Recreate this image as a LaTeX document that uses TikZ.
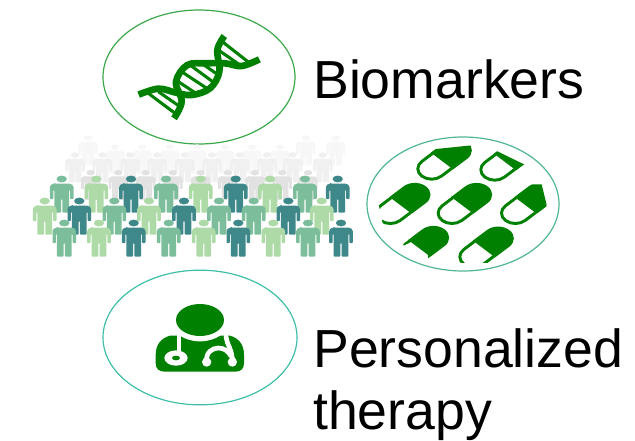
\documentclass[tikz,border=0pt]{standalone}
\usepackage{fontspec}
\setmainfont{Liberation Sans}
\usetikzlibrary{shapes.geometric}
\definecolor{gr}{HTML}{008000}
\definecolor{pa}{HTML}{7CBE9C}
\definecolor{pb}{HTML}{AEDAA8}
\definecolor{pc}{HTML}{3F888A}
\definecolor{qa}{HTML}{E2E2E2}
\definecolor{qb}{HTML}{F0F0F0}
\definecolor{qc}{HTML}{F7F7F7}
\definecolor{ra}{HTML}{3CA84A}
\definecolor{rb}{HTML}{4FB595}
\definecolor{rc}{HTML}{3DBFA8}
\tikzset{
  ring/.style={draw=#1,ellipse,line width=.9pt,inner sep=0pt},
  label text/.style={font=\fontsize{40.2pt}{47pt}\selectfont,inner sep=0pt,anchor=base west,text=black},
  strand/.style={draw=gr,line width=5pt},
  rung/.style={draw=gr,line width=2.3pt},
  tube/.style={draw=white,line width=3.5pt,line cap=round},
}
\newcommand{\person}[4]{%
  \begin{scope}[shift={(#1,#2)},scale=#4]
    \fill[#3] (0,0) ellipse [x radius=5.2,y radius=3.4];
    \fill[#3,rounded corners=.6pt] (-7,4.6) -- (7,4.6) .. controls (10,4.6) and (11.8,6.5) .. (11.8,9)
      -- (11.8,20) -- (8.4,20) -- (8.4,11) -- (7.4,11) -- (7.4,33.5) -- (0.6,33.5) -- (0.6,20) -- (-0.6,20)
      -- (-0.6,33.5) -- (-7.4,33.5) -- (-7.4,11) -- (-8.4,11) -- (-8.4,20) -- (-11.8,20) -- (-11.8,9)
      .. controls (-11.8,6.5) and (-10,4.6) .. (-7,4.6) -- cycle;
  \end{scope}}
\newcommand{\pill}[3]{%
  \begin{scope}
    \clip #3;
    \begin{scope}[shift={(#1,#2)},xscale=1.33,rotate=45,y=.25pt]
      \fill[gr] (0,35.5) -- (45,35.5) arc (90:-90:35.5) -- (0,-35.5) -- cycle;
      \draw[gr,line width=2.2pt] (1,31.2) -- (-33,31.2) arc (90:270:31.2) -- (1,-31.2);
    \end{scope}
  \end{scope}}
\begin{document}
\begin{tikzpicture}[x=.75pt,y=-.75pt]
\useasboundingbox (0,0) rectangle (635,440);
% rings
\node[ring=ra,minimum width=144pt,minimum height=100.5pt] (dnaRing) at (199,77) {};
\node[ring=rb,minimum width=144pt,minimum height=100.5pt] (pillRing) at (463,204) {};
\node[ring=rc,minimum width=145.5pt,minimum height=101pt] (docRing) at (200,337.5) {};
% labels
\node[label text] (bio) at (313,98) {Biomarkers};
\node[label text] (per) at (313,367) {Personalized};
\node[label text] (the) at (313,429) {therapy};
% DNA
\begin{scope}[shift={(100,0)},x=.25pt,y=-.25pt]
  \draw[rung] (145,280) -- (232,345);
  \draw[rung] (175,275) -- (243,322);
  \draw[rung] (235,245) -- (285,278);
  \draw[rung] (245,215) -- (325,268);
  \draw[rung] (270,195) -- (345,250);
  \draw[rung] (305,190) -- (355,225);
  \draw[rung] (358,118) -- (450,190);
  \draw[rung] (355,150) -- (420,195);
  \draw[strand] plot[smooth,tension=.6] coordinates {(116,284) (175,266) (228,278) (275,285) (330,265) (358,215) (352,150) (373,108)};
  \draw[strand] plot[smooth,tension=.6] coordinates {(222,355) (245,305) (228,245) (262,195) (320,190) (375,190) (425,198) (478,178)};
\end{scope}
% pills
\begin{scope}[shift={(360,130)},x=.25pt,y=-.25pt]
  \pill{246}{93}{(150,65) -- (325,47) -- (345,47) -- (345,160) -- (150,160) -- cycle}
  \pill{435}{96}{(340,160) -- (340,62) -- (408,62) -- (492,103) -- (520,160) -- cycle}
  \pill{122}{226}{(50,140) -- (230,140) -- (230,300) -- (70,290) -- (66,270) -- (57,228) -- cycle}
  \pill{307}{226}{(200,140) -- (420,140) -- (420,300) -- (200,300) -- cycle}
  \pill{497}{226}{(400,163) -- (545,163) -- (560,225) -- (540,300) -- (400,300) -- cycle}
  \pill{178}{355}{(128,280) -- (290,280) -- (290,400) -- (215,387) -- (204,383) -- (204,376) -- (150,338) -- (130,347) -- cycle}
  \pill{372}{357}{(280,290) -- (480,290) -- (480,397) -- (280,397) -- cycle}
\end{scope}
% doctor
\begin{scope}[shift={(100,265)},x=.25pt,y=-.25pt]
  \fill[gr] (210,212) .. controls (182,220) and (167,240) .. (167,270) -- (167,295)
    .. controls (167,312) and (178,320) .. (195,320) -- (405,320)
    .. controls (422,320) and (432,312) .. (432,295) -- (432,270)
    .. controls (432,240) and (418,220) .. (390,212) -- cycle;
  \draw[tube] (237,215) -- (237,255);
  \fill[white] (228,279) ellipse [x radius=35,y radius=23];
  \fill[gr] (228,279) ellipse [x radius=12,y radius=7];
  \draw[tube] (378,215) .. controls (380,238) and (398,255) .. (397,290);
  \draw[tube] (320,290) .. controls (316,262) and (338,249) .. (355,249) .. controls (372,249) and (384,258) .. (392,272);
  \fill[white] (320,291) circle (14);
  \fill[white] (397,291) circle (14);
  \fill[white] (300,172) ellipse [x radius=84,y radius=57];
  \fill[gr] (300,165) ellipse [x radius=72,y radius=48];
\end{scope}
% crowd, back rows first
\foreach \x in {115,142,170,197,225,252,280}{\person{\x}{147}{qc}{.8}}
\foreach \x in {88,305.7,335.7}{\person{\x}{138}{qc}{.82}}
\foreach \x in {75,102.3,130,157.3,184.7,212,239.7,267,292.7,322.7}{\person{\x}{155}{qb}{.82}}
\foreach \x in {90.7,118.3,145.7,173,200.7,227.7,255,282.3,308}{\person{\x}{172.7}{qa}{.82}}
\foreach \x/\c in {61.7/pa,96.3/pb,131/pc,166/pa,200.7/pb,235.7/pc,270/pb,305/pa,337.7/pc}{\person{\x}{179}{\c}{1}}
\foreach \x/\c in {44.7/pb,79.3/pc,114.3/pa,149/pb,184/pc,219/pa,253.7/pa,288.3/pc,321.7/pb}{\person{\x}{201}{\c}{1}}
\foreach \x/\c in {64.3/pa,99/pb,133.7/pc,168.7/pa,203.7/pb,238.3/pc,273.3/pb,308/pa,341/pc}{\person{\x}{223}{\c}{1}}
\end{tikzpicture}
\end{document}
